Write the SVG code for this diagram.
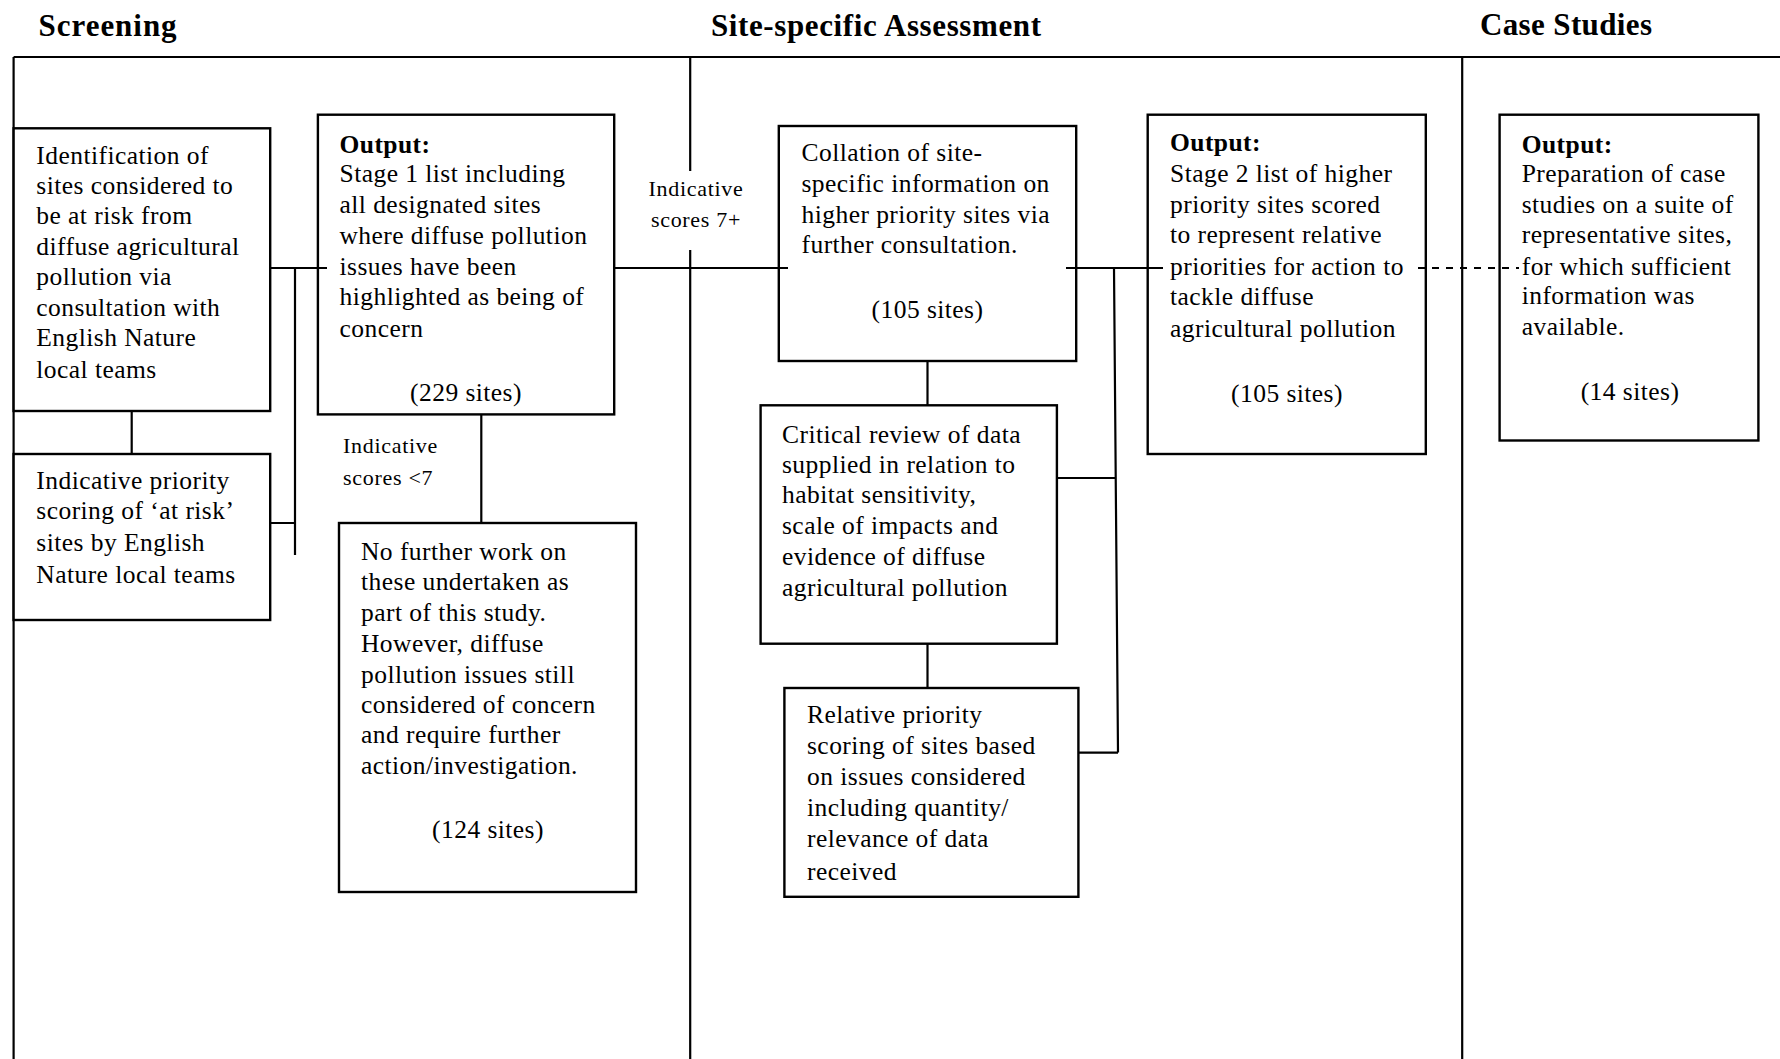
<svg xmlns="http://www.w3.org/2000/svg" width="1780" height="1059" viewBox="0 0 1780 1059">
<style>
.ln{stroke:#000;stroke-width:2.2;fill:none}
.bx{stroke:#000;stroke-width:2.4;fill:#fff}
.t{font-family:"Liberation Serif","Times New Roman",serif;font-size:25.5px;fill:#000;letter-spacing:0.45px}
.b{font-weight:bold}
.s{font-family:"Liberation Serif","Times New Roman",serif;font-size:22px;fill:#000;letter-spacing:0.7px}
.h{font-family:"Liberation Serif","Times New Roman",serif;font-size:31px;font-weight:bold;fill:#000}
.m{text-anchor:middle}
</style>
<rect width="1780" height="1059" fill="#fff"/>
<g id="headers">
<text class="h" x="38.6" y="36" textLength="138" lengthAdjust="spacing">Screening</text>
<text class="h" x="711" y="36" textLength="330" lengthAdjust="spacing">Site-specific Assessment</text>
<text class="h" x="1480" y="35" textLength="172" lengthAdjust="spacing">Case Studies</text>
</g>
<g id="frame">
<path class="ln" d="M13.6,57 H1780 M13.6,57 V1059 M690.2,57 V171 M690.2,250 V1059 M1462.2,57 V1059"/>
</g>
<g id="n-identification">
<rect class="bx" x="13.6" y="128.3" width="256.6" height="282.7"/>
<text class="t" x="36.3" y="164">Identification of</text>
<text class="t" x="36.3" y="194">sites considered to</text>
<text class="t" x="36.3" y="224">be at risk from</text>
<text class="t" x="36.3" y="255">diffuse agricultural</text>
<text class="t" x="36.3" y="285">pollution via</text>
<text class="t" x="36.3" y="316">consultation with</text>
<text class="t" x="36.3" y="346">English Nature</text>
<text class="t" x="36.3" y="378">local teams</text>
</g>
<g id="n-indicative">
<rect class="bx" x="13.6" y="454" width="256.6" height="166"/>
<text class="t" x="36.3" y="489">Indicative priority</text>
<text class="t" x="36.3" y="519">scoring of ‘at risk’</text>
<text class="t" x="36.3" y="551">sites by English</text>
<text class="t" x="36.3" y="583">Nature local teams</text>
</g>
<g id="n-output1">
<rect class="bx" x="317.9" y="114.7" width="296.3" height="299.7"/>
<text class="t b" x="339.5" y="153">Output:</text>
<text class="t" x="339.5" y="182">Stage 1 list including</text>
<text class="t" x="339.5" y="213">all designated sites</text>
<text class="t" x="339.5" y="244">where diffuse pollution</text>
<text class="t" x="339.5" y="275">issues have been</text>
<text class="t" x="339.5" y="305">highlighted as being of</text>
<text class="t" x="339.5" y="337">concern</text>
<text class="t m" x="466" y="401">(229 sites)</text>
</g>
<g id="l-score7plus">
<text class="s m" x="696" y="196">Indicative</text>
<text class="s m" x="696" y="227">scores 7+</text>
</g>
<g id="l-scorelt7">
<text class="s" x="343" y="453">Indicative</text>
<text class="s" x="343" y="485">scores &lt;7</text>
</g>
<g id="n-nofurther">
<rect class="bx" x="339" y="523" width="297" height="369"/>
<text class="t" x="361" y="560">No further work on</text>
<text class="t" x="361" y="590">these undertaken as</text>
<text class="t" x="361" y="621">part of this study.</text>
<text class="t" x="361" y="652">However, diffuse</text>
<text class="t" x="361" y="683">pollution issues still</text>
<text class="t" x="361" y="713">considered of concern</text>
<text class="t" x="361" y="743">and require further</text>
<text class="t" x="361" y="774">action/investigation.</text>
<text class="t m" x="488" y="838">(124 sites)</text>
</g>
<g id="n-collation">
<rect class="bx" x="778.8" y="126" width="297.4" height="235"/>
<text class="t" x="801.5" y="161">Collation of site-</text>
<text class="t" x="801.5" y="192">specific information on</text>
<text class="t" x="801.5" y="223">higher priority sites via</text>
<text class="t" x="801.5" y="253">further consultation.</text>
<text class="t m" x="927.5" y="318">(105 sites)</text>
</g>
<g id="n-critical">
<rect class="bx" x="760.6" y="405.3" width="296.3" height="238.4"/>
<text class="t" x="782" y="443">Critical review of data</text>
<text class="t" x="782" y="473">supplied in relation to</text>
<text class="t" x="782" y="503">habitat sensitivity,</text>
<text class="t" x="782" y="534">scale of impacts and</text>
<text class="t" x="782" y="565">evidence of diffuse</text>
<text class="t" x="782" y="596">agricultural pollution</text>
</g>
<g id="n-relative">
<rect class="bx" x="784.4" y="688" width="294" height="208.8"/>
<text class="t" x="807" y="723">Relative priority</text>
<text class="t" x="807" y="754">scoring of sites based</text>
<text class="t" x="807" y="785">on issues considered</text>
<text class="t" x="807" y="816">including quantity/</text>
<text class="t" x="807" y="847">relevance of data</text>
<text class="t" x="807" y="880">received</text>
</g>
<g id="n-output2">
<rect class="bx" x="1147.7" y="114.7" width="278.1" height="339.3"/>
<text class="t b" x="1170" y="151">Output:</text>
<text class="t" x="1170" y="182">Stage 2 list of higher</text>
<text class="t" x="1170" y="213">priority sites scored</text>
<text class="t" x="1170" y="243">to represent relative</text>
<text class="t" x="1170" y="275">priorities for action to</text>
<text class="t" x="1170" y="305">tackle diffuse</text>
<text class="t" x="1170" y="337">agricultural pollution</text>
<text class="t m" x="1287" y="402">(105 sites)</text>
</g>
<g id="n-output3">
<rect class="bx" x="1499.6" y="114.7" width="258.8" height="325.8"/>
<text class="t b" x="1521.7" y="153">Output:</text>
<text class="t" x="1521.7" y="182">Preparation of case</text>
<text class="t" x="1521.7" y="213">studies on a suite of</text>
<text class="t" x="1521.7" y="243">representative sites,</text>
<text class="t" x="1521.7" y="275">for which sufficient</text>
<text class="t" x="1521.7" y="304">information was</text>
<text class="t" x="1521.7" y="335">available.</text>
<text class="t m" x="1630" y="400">(14 sites)</text>
</g>
<g id="connectors">
<path class="ln" d="M131.7,411 V454 M270,268 H327 M295,268 V555 M270,523 H295 M481.3,414 V523 M614,268 H788 M927.5,361 V405 M927.5,643.7 V688 M1066,268 H1163 M1114,268 L1118,752.6 M1057,478 H1115 M1078.4,752.6 H1118"/>
<path class="ln" d="M1418,268 H1519" stroke-dasharray="7 7"/>
</g>
</svg>
